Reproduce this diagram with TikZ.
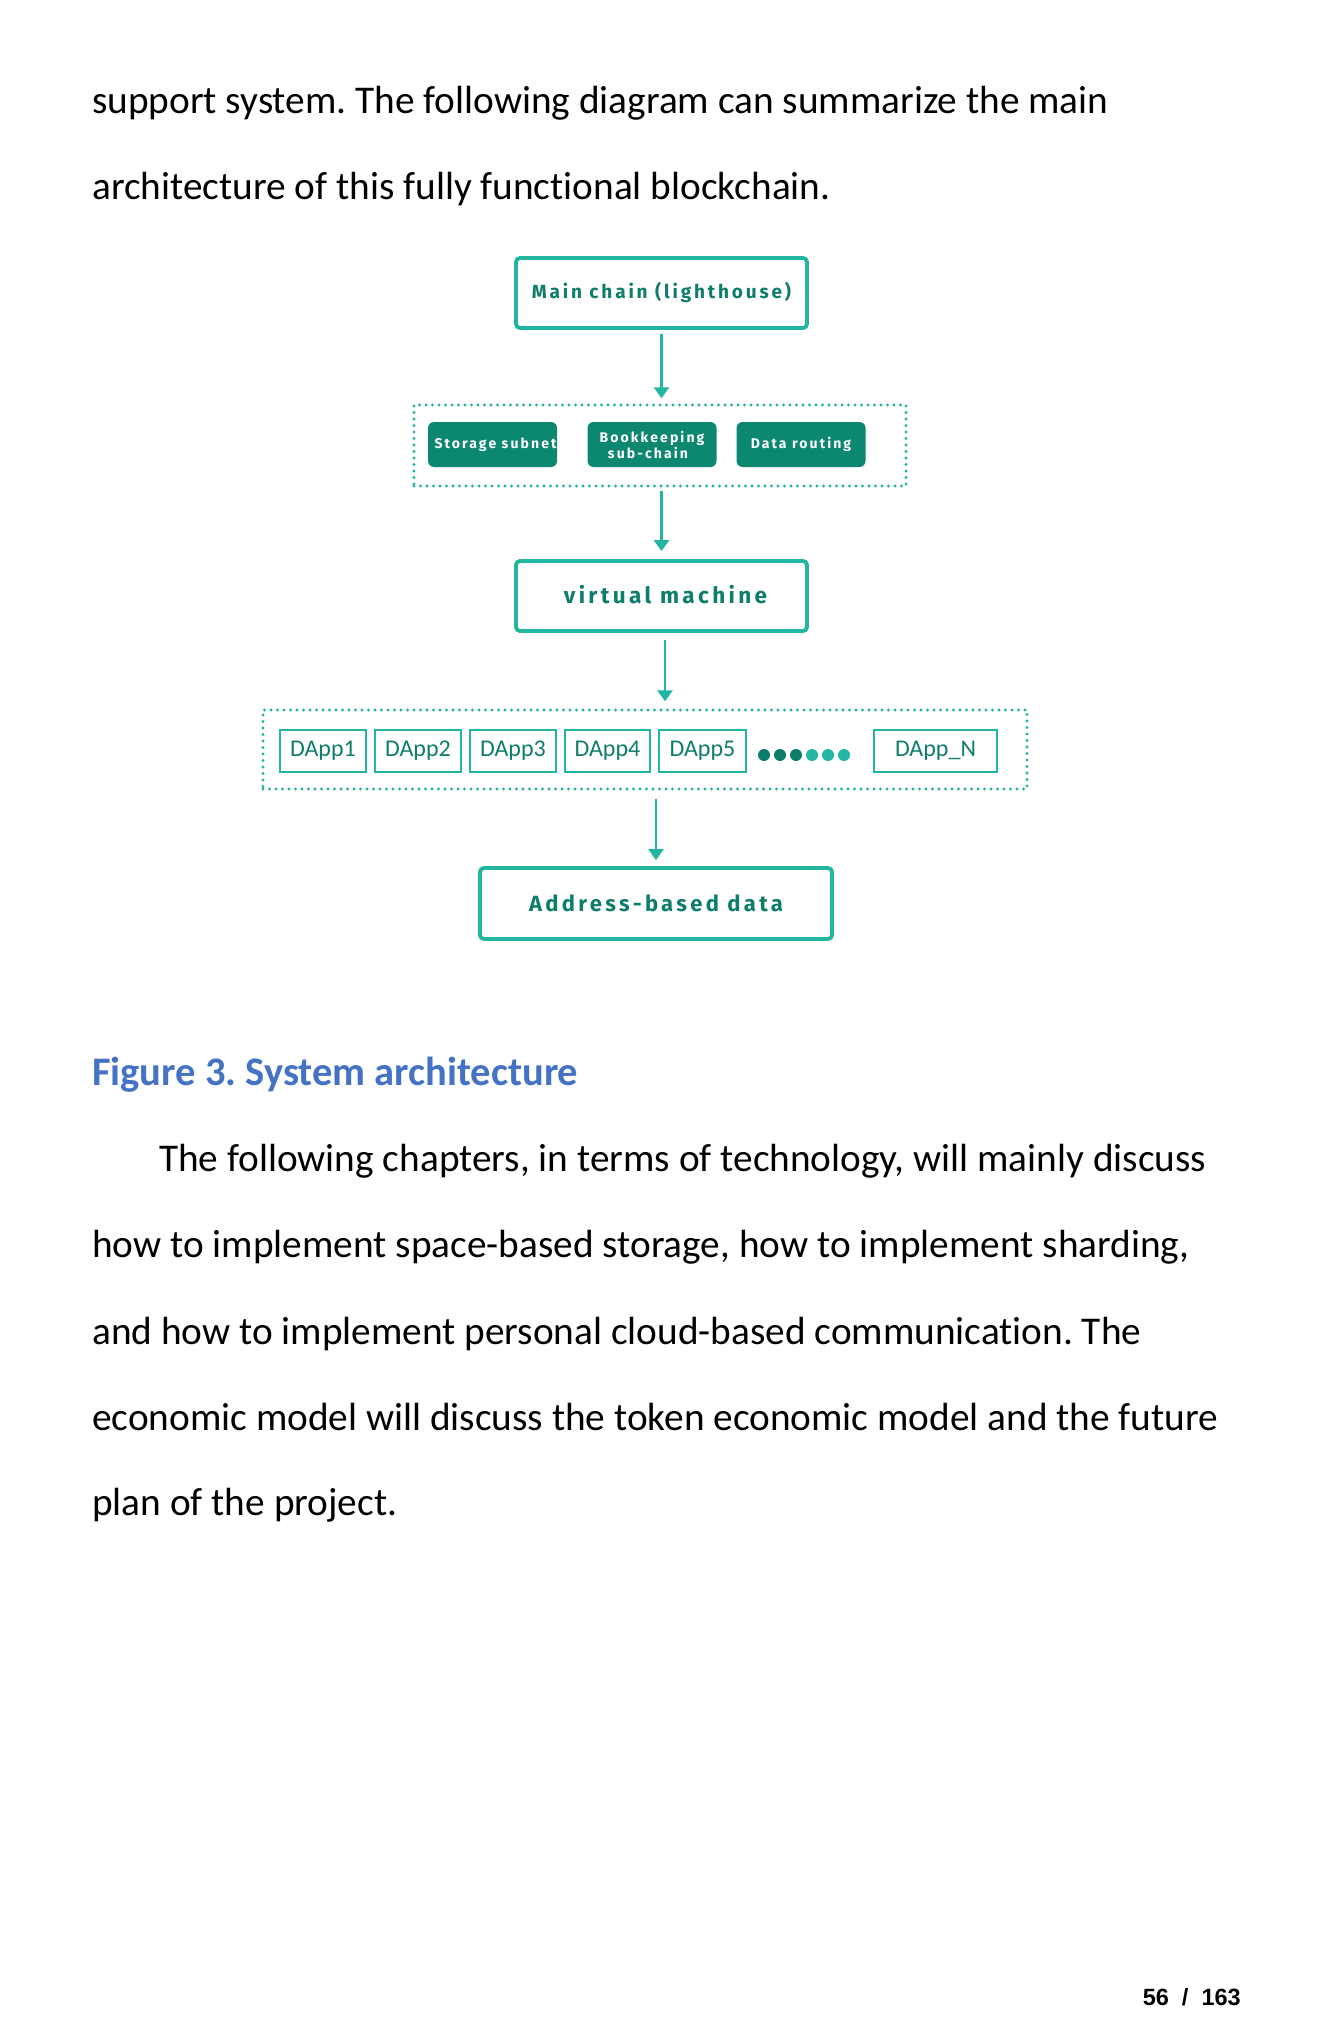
\documentclass[tikz,border=0pt]{standalone}
\usepackage{fontspec}
\setmainfont{Carlito}[Ligatures=NoCommon]
\newfontfamily\diagfont[LetterSpace=15]{Fira Sans}
\newfontfamily\dappfont{Carlito}
\newfontfamily\pgfont{Liberation Sans}
\usetikzlibrary{arrows.meta}
\definecolor{tealA}{HTML}{22B5A2}
\definecolor{tealB}{HTML}{0E7D6B}
\definecolor{tealF}{HTML}{0C8770}
\definecolor{capblue}{HTML}{4472C4}
\tikzset{
  bigbox/.style={draw=tealA, line width=3.8pt, rounded corners=4pt, minimum width=291pt, minimum height=70pt, inner sep=0pt, text=tealB, font=\diagfont\bfseries\fontsize{19}{21}\selectfont},
  darkbox/.style={fill=tealF, rounded corners=6pt, minimum width=129pt, minimum height=45pt, inner sep=0pt, text=white, align=center, font=\diagfont\bfseries\fontsize{14}{16}\selectfont},
  dotbox/.style={draw=tealA, line width=3.4pt, dash pattern=on 0pt off 6.5pt, line cap=round, inner sep=0pt},
  dappbox/.style={draw=tealA, line width=2pt, minimum height=42pt, inner sep=0pt, text=tealB, font=\dappfont\fontsize{24}{26}\selectfont},
  arr/.style={draw=tealA, line width=2.5pt, -{Triangle[width=15pt,length=11pt]}},
  bodytext/.style={anchor=base west, inner sep=0pt, font=\fontsize{39.3}{42}\selectfont},
  dotdark/.style={circle, fill=tealB, minimum size=12pt, inner sep=0pt},
  dotlight/.style={circle, fill=tealA, minimum size=12pt, inner sep=0pt}
}
\begin{document}
\frenchspacing
\begin{tikzpicture}[x=1pt,y=-1pt]
\useasboundingbox[fill=white] (0,0) rectangle (1332,2041);

\node[bodytext] (t1) at (92,114) {support system. The following diagram can summarize the main};
\node[bodytext] (t2) at (92,200) {architecture of this fully functional blockchain.};

\node[bigbox] (main) at (661.5,293) {\raisebox{5pt}{Main chain (lighthouse)}};
\node[dotbox, minimum width=492pt, minimum height=81pt] (sub) at (660,445.5) {};
\node[darkbox] (stor) at (492.5,444.5) {\hspace*{6pt}Storage subnet};
\node[darkbox] (book) at (652,444.5) {Bookkeeping\\sub-chain\hspace*{8pt}};
\node[darkbox] (rout) at (801,444.5) {Data routing};

\node[bigbox, font=\diagfont\bfseries\fontsize{22.5}{24}\selectfont] (vm) at (661.5,596) {\raisebox{3pt}{\hspace*{8pt}virtual machine}};

\node[dotbox, minimum width=764pt, minimum height=79pt] (apps) at (645,749.5) {};
\node[dappbox, minimum width=86pt] (d1) at (323,751) {DApp1};
\node[dappbox, minimum width=86pt] (d2) at (418,751) {DApp2};
\node[dappbox, minimum width=86pt] (d3) at (513,751) {DApp3};
\node[dappbox, minimum width=85pt] (d4) at (607.5,751) {DApp4};
\node[dappbox, minimum width=87pt] (d5) at (702.5,751) {DApp5};
\node[dotdark] (p1) at (764,755) {};
\node[dotdark] (p2) at (780,755) {};
\node[dotdark] (p3) at (796,755) {};
\node[dotlight] (p4) at (812,755) {};
\node[dotlight] (p5) at (828,755) {};
\node[dotlight] (p6) at (844,755) {};
\node[dappbox, minimum width=123pt] (dn) at (935.5,751) {DApp\_N};

\node[bigbox, minimum width=352pt, minimum height=71pt, font=\diagfont\bfseries\fontsize{22}{24}\selectfont] (addr) at (656,903.5) {Address-based data};

\draw[arr, shorten <=4pt, shorten >=5pt] (main.south) -- (main.south |- sub.north);
\draw[arr, shorten <=3pt, shorten >=8pt] (sub.south -| main.south) -- (vm.north);
\draw[arr, shorten <=7pt, shorten >=7pt] ([xshift=3.5pt]vm.south) -- ([xshift=3.5pt]vm.south |- apps.north);
\draw[arr, shorten <=8pt, shorten >=6pt] (addr.north |- apps.south) -- (addr.north);

\node[bodytext, text=capblue, font=\bfseries\fontsize{40.5}{43}\selectfont] (cap) at (92,1085) {Figure 3. System architecture};

\node[bodytext] (p1l) at (159,1171) {The following chapters, in terms of technology, will mainly discuss};
\node[bodytext] (p2l) at (92,1257) {how to implement space-based storage, how to implement sharding,};
\node[bodytext] (p3l) at (92,1344) {and how to implement personal cloud-based communication. The};
\node[bodytext] (p4l) at (92,1430) {economic model will discuss the token economic model and the future};
\node[bodytext] (p5l) at (92,1515) {plan of the project.};

\node[anchor=base east, inner sep=0pt, font=\pgfont\bfseries\fontsize{23.5}{25}\selectfont] (pg) at (1241,2005) {56 \ / \ 163};
\end{tikzpicture}
\end{document}
